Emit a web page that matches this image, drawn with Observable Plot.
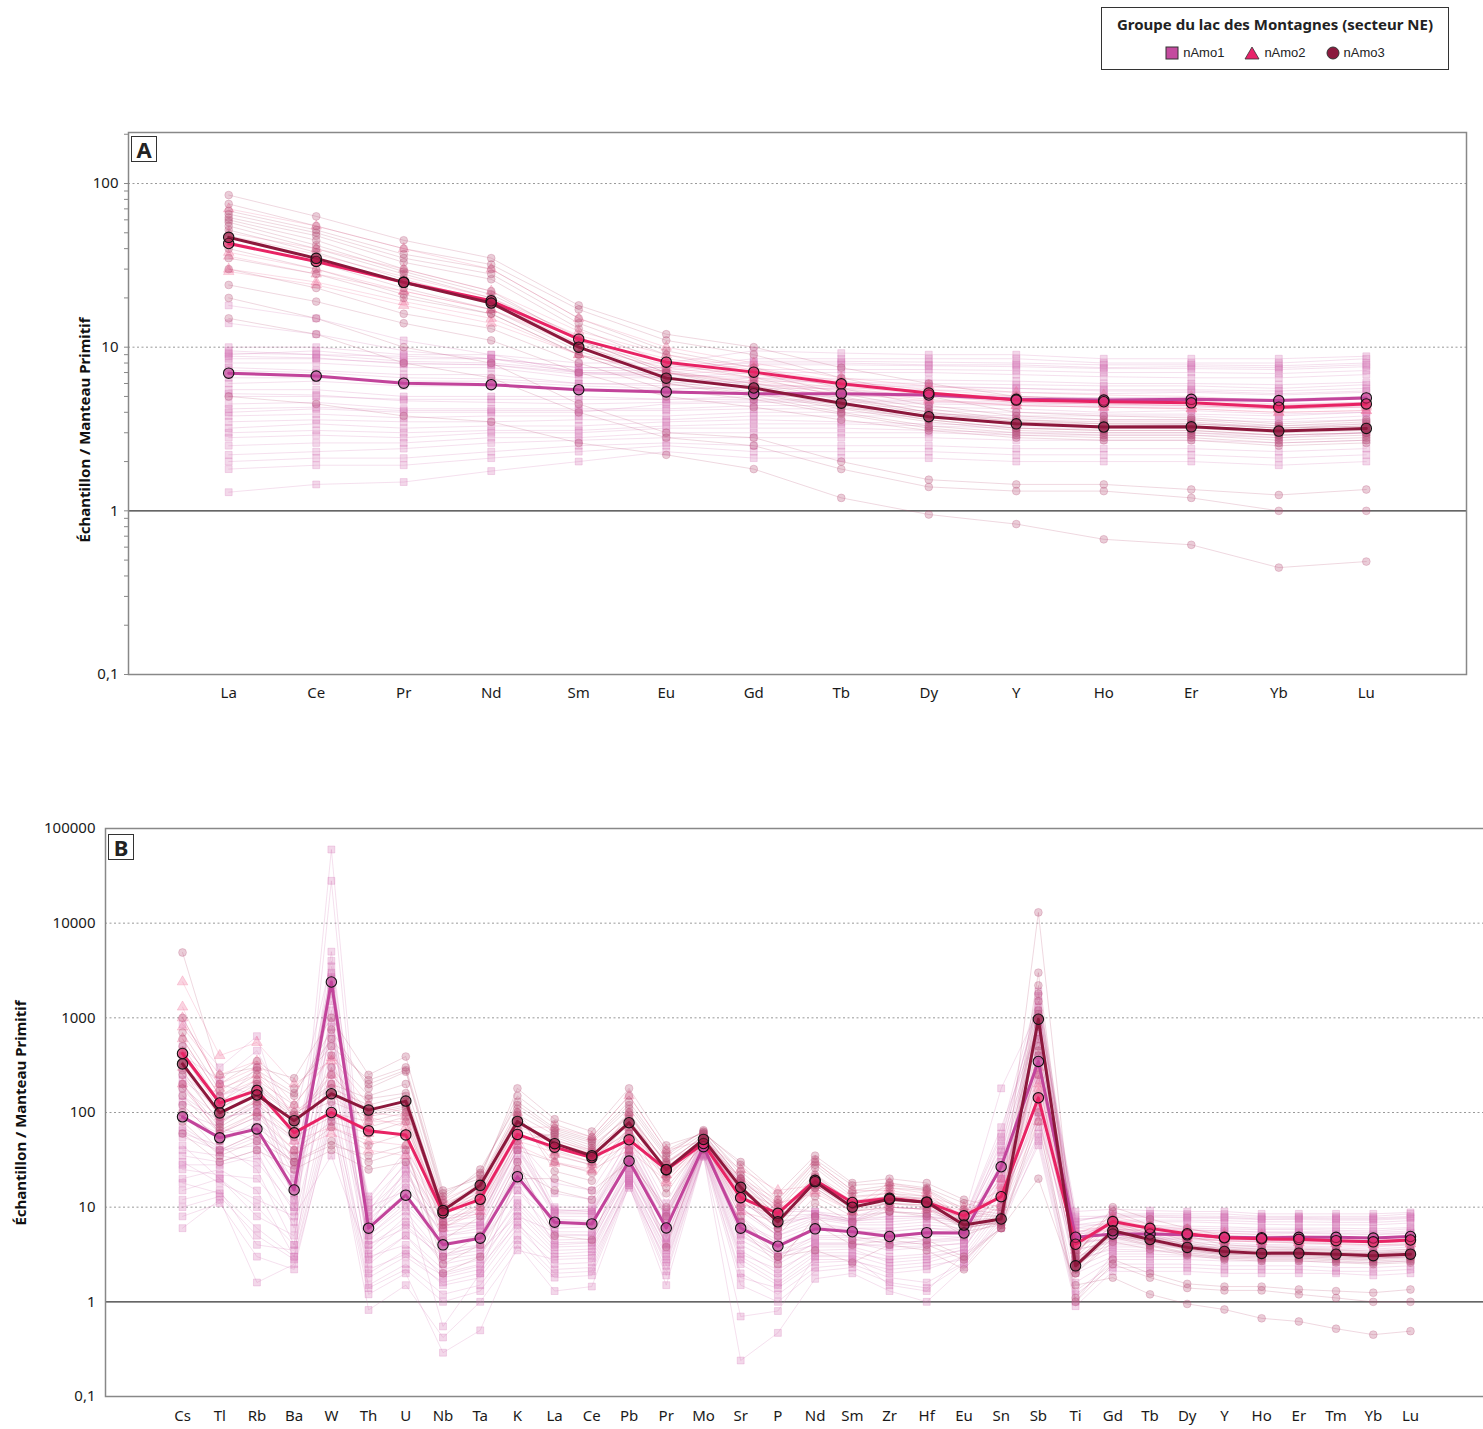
<!DOCTYPE html>
<html>
<head>
<meta charset="utf-8">
<script src="https://cdn.jsdelivr.net/npm/d3@7"></script>
<script src="https://cdn.jsdelivr.net/npm/@observablehq/plot@0.6"></script>
<style>
  html, body { margin: 0; padding: 0; background: #fff; overflow: hidden; }
  body { width: 1483px; height: 1429px; position: relative; font-family: "Noto Sans", "Open Sans", sans-serif; color: #222; overflow: hidden; }
  .abs { position: absolute; }
  .abs svg { max-width: none !important; }
  .ylab { position: absolute; transform: translate(-50%, -50%) rotate(-90deg); white-space: nowrap; font-weight: bold; font-size: 15px; color: #111; }
  .tag { position: absolute; width: 24px; height: 24px; border: 1.5px solid #333; font-weight: bold; font-size: 22px; line-height: 24px; text-align: center; color: #222; background: #fff; }
  #legend { position: absolute; left: 1101px; top: 7px; width: 346px; height: 61px; border: 1.5px solid #333; background: #fff; }
  #legend .title { position: absolute; left: 0; right: 0; top: 6px; text-align: center; font-weight: bold; font-size: 15px; color: #222; }
  #legend .items { position: absolute; left: 0; right: 0; top: 37px; display: flex; justify-content: center; align-items: center; gap: 20px; font-family: "Liberation Sans", Arial, sans-serif; font-size: 13px; }
  #legend .item { display: flex; align-items: center; gap: 4px; }
</style>
</head>
<body>
<div id="legend">
  <div class="title">Groupe du lac des Montagnes (secteur NE)</div>
  <div class="items">
    <div class="item"><svg width="14" height="14"><rect x="1" y="1" width="12" height="12" fill="#c44b9f" stroke="#333" stroke-width="1"/></svg><span>nAmo1</span></div>
    <div class="item"><svg width="16" height="14"><polygon points="8,1 15,13 1,13" fill="#e8246a" stroke="#333" stroke-width="0.8"/></svg><span>nAmo2</span></div>
    <div class="item"><svg width="14" height="14"><circle cx="7" cy="7" r="6" fill="#8b1a3e" stroke="#333" stroke-width="1"/></svg><span>nAmo3</span></div>
  </div>
</div>
<div id="chartA" class="abs" style="left:0; top:100px;"></div>
<div id="chartB" class="abs" style="left:0; top:790px;"></div>
<div class="tag" style="left:131px; top:136px;">A</div>
<div class="tag" style="left:108px; top:834px;">B</div>
<div class="ylab" style="left:84px; top:430px;">Échantillon / Manteau Primitif</div>
<div class="ylab" style="left:20px; top:1113px;">Échantillon / Manteau Primitif</div>
<script>
// ---------- DATA ----------
const elementsB = ["Cs","Tl","Rb","Ba","W","Th","U","Nb","Ta","K","La","Ce","Pb","Pr","Mo","Sr","P","Nd","Sm","Zr","Hf","Eu","Sn","Sb","Ti","Gd","Tb","Dy","Y","Ho","Er","Tm","Yb","Lu"];
const elementsA = ["La","Ce","Pr","Nd","Sm","Eu","Gd","Tb","Dy","Y","Ho","Er","Yb","Lu"];

const yTicksA = [0.1, 1, 10, 100];
const yTicksB = [0.1, 1, 10, 100, 1000, 10000, 100000];
const gridA = [10, 100];
const gridB = [10, 100, 1000, 10000, 100000];

const groups = ["nAmo1", "nAmo2", "nAmo3"];

// median profiles (element order of elementsB)
const medianAmo1 = [90,54,67,15.2,2390, 6.0,13.4,4.0,4.7,21, 6.94,6.66,30.7,6.03,43.5, 6.0,3.87,5.9,5.5,4.9, 5.38,5.33,26.7,346,4.81, 5.2,5.2,5.1,4.8,4.75, 4.8,4.8,4.72,4.9];
const medianAmo2 = [420,126,171,61,100, 64,58,8.7,12.1,58.7, 43,33.4,51.5,24.9,47, 12.6,8.6,19.2,11.2,12.4, 11.3,8.1,12.9,143,4.06, 7.04,5.97,5.24,4.75,4.64, 4.57,4.43,4.3,4.5];
const medianAmo3 = [326,99,153,82,158, 106,132,9.2,17,80.5, 46.9,34.9,78,24.9,52, 16.2,7.0,18.6,10.0,12.1, 11.3,6.47,7.5,966,2.4, 5.63,4.55,3.76,3.4,3.25, 3.26,3.18,3.07,3.19];

// individual samples
const samplesAmo1 = [
  [35,30,40,6,60000, 3.5,8,2.5,3,12, 4.5,4.6,25,4.2,40, 4,2.5,4.2,4.2,3.5, 3.8,4.2,30,900,3.5, 4.4,4.4,4.3,4.2,4.0, 4.1,4.0,3.9,4.0],
  [60,45,25,4,28000, 2.5,5,1.8,2.2,8, 3.2,3.4,20,3.2,38, 3,1.8,3.3,3.3,2.8, 3.0,3.5,20,600,2.8, 3.6,3.5,3.4,3.3,3.3, 3.4,3.2,3.3,3.4],
  [850,300,640,40,2900, 9,30,6,7,40, 9,9.5,45,8.5,55, 12,6,8.5,7.5,8, 8,7.5,60,1900,7, 8.5,8.5,8.5,8.5,8, 8,8,8,8.5],
  [150,80,120,25,2600, 7,18,5,6,35, 8,8,35,7.5,48, 9,5,7.5,6.5,6.5, 7,6.5,40,1700,6, 7,7,7,6.8,6.6, 6.5,6.5,6.5,6.8],
  [20,25,15,3,1000, 2,3.5,1.5,1.8,6, 2.5,2.6,18,2.6,36, 2.5,1.5,2.8,2.8,2, 2.2,3,10,120,2, 3,3,3,2.9,2.9, 2.9,2.8,2.8,3],
  [6,12,1.6,2.5,80, 1.2,2,0.29,0.5,4, 1.3,1.45,17,1.5,35, 0.24,0.47,1.75,2.0,1.3, 1.0,2.3,7,45,0.9, 2.1,2.1,2.1,2.0,2.0, 2.0,2.0,1.9,2.0],
  [300,150,200,60,700, 12,40,9,10,60, 10,10,55,9,60, 20,10,9,8,10, 9.5,8,180,1200,9, 9.5,9.2,9,9,8.5, 8.5,8.5,8.5,8.8],
  [45,20,8,5,400, 4,6,3,3.5,8, 5.5,5.5,22,5,42, 5,3,5,5,4, 4.5,4.8,15,250,4, 4.8,4.8,4.7,4.6,4.5, 4.5,4.4,4.4,4.6],
  [250,120,300,10,3000, 8,20,5,5.5,25, 6,6.2,40,5.8,50, 8,4,5.8,5.5,5.5, 6,5.5,35,1000,5.5, 5.8,5.8,5.7,5.6,5.5, 5.5,5.5,5.4,5.6],
  [12,15,4,3.5,150, 1.5,2.5,1.2,1.5,5, 2.0,2.1,18,2.1,36, 2,1.2,2.3,2.5,1.8, 1.6,2.6,8,60,1.3, 2.5,2.5,2.5,2.4,2.4, 2.4,2.3,2.3,2.4],
  [100,70,50,20,250, 5,10,4,5,30, 5,5,28,4.8,45, 7,3.5,4.8,4.8,4.5, 5,4.8,22,400,5, 5,5,5,4.9,4.9, 4.9,4.8,4.8,5],
  [500,200,150,12,5000, 6,25,3.5,4,15, 7.5,7.2,32,6.8,52, 10,5,6.8,6,6, 6.5,6,50,1500,5, 6.5,6.4,6.3,6.2,6, 6,6,5.9,6.1],
  [30,18,12,8,35, 3,4,2,2.5,10, 3.8,3.9,20,3.7,40, 3.5,2,3.8,3.8,3, 3.2,3.8,12,90,3, 4,4,3.9,3.8,3.8, 3.8,3.7,3.6,3.8],
  [70,40,60,30,1500, 10,15,7,8,45, 9.5,9,38,8.8,46, 15,8,8.5,7.5,9, 8.5,7.5,70,800,8, 8,8,7.8,7.8,7.5, 7.6,7.5,7.5,7.8],
  [180,90,100,50,900, 13,35,8,9,50, 18,15,60,11,55, 18,9,9,7,12, 11,6.5,25,500,6, 6,5.5,5,4.8,4.6, 4.6,4.5,4.4,4.5],
  [8,11,3,2.2,90, 0.82,1.5,0.42,1.0,3.5, 2.8,2.9,16,2.8,34, 0.7,0.8,3,3,1.5, 1.3,3.2,6,50,1.0, 3.2,3.2,3.1,3.0,3.0, 3.0,2.9,2.9,3.0],
  [40,35,30,10,500, 4.5,9,3,4,18, 4,4.2,24,4,42, 5.5,3.2,4,4,4, 4.2,4.5,18,300,4.2, 4.6,4.6,4.5,4.4,4.3, 4.3,4.2,4.2,4.3],
  [200,60,90,18,2200, 5.5,12,0.55,2,22, 6.5,6.5,30,6.2,44, 6.5,3.8,6.2,5.8,5, 5.5,5.6,28,700,5.2, 5.6,5.6,5.5,5.3,5.2, 5.3,5.2,5.1,5.3],
  [120,50,80,35,600, 11,28,7.5,8.5,40, 14,12,50,9.5,50, 14,7,8.5,7,10, 9.5,6.8,20,350,6.5, 6.5,6,5.8,5.6,5.4, 5.4,5.3,5.2,5.4],
  [25,22,20,7,300, 2.8,5,2.2,2.8,9, 3.5,3.6,21,3.5,39, 3.2,2.2,3.5,3.6,2.6, 2.8,3.6,14,150,2.6, 3.8,3.8,3.8,3.7,3.6, 3.6,3.5,3.5,3.6],
  [55,40,45,12,800, 4,7,3.2,3.8,15, 5.2,5.1,26,4.7,41, 5.2,3,4.6,4.5,4.2, 4.4,4.6,20,280,4.3, 4.7,4.7,4.6,4.5,4.4, 4.4,4.3,4.3,4.5],
  [90,60,70,16,1800, 6.5,14,4.5,5,24, 7.2,7,33,6.5,47, 7,4.5,6.4,6,5.6, 6,5.8,30,650,5.5, 6.2,6.1,6,5.9,5.8, 5.8,5.7,5.6,5.9],
  [15,20,10,4,200, 1.8,3,1.6,2,7, 2.2,2.3,19,2.4,37, 1.8,1.4,2.6,2.7,2.2, 2.4,2.8,9,70,1.6, 2.8,2.8,2.8,2.7,2.7, 2.7,2.6,2.6,2.7],
  [400,220,450,80,4000, 9.5,22,6.5,7,55, 8.5,8.5,42,8,52, 11,7,7.8,7,8, 8,7,45,1100,7.5, 7.8,7.8,7.7,7.6,7.4, 7.4,7.3,7.3,7.6],
  [28,28,35,9,1200, 3.2,6.5,2.8,3.2,11, 4.2,4.3,23,4.1,40, 4.5,2.8,4.1,4.1,3.8, 3.9,4.1,16,220,3.6, 4.2,4.2,4.1,4.0,3.9, 3.9,3.8,3.8,4.0],
  [65,38,55,14,3500, 5,11,4.2,4.8,19, 6.8,6.6,29,6,43, 6.8,4.2,5.9,5.5,5.2, 5.4,5.3,26,380,4.8, 5.3,5.3,5.2,5,4.9, 4.9,4.9,4.8,5],
  [130,85,110,22,2000, 7.5,16,5.5,6.3,32, 8.8,8.6,36,7.9,49, 9.5,5.5,7.8,6.8,7, 7.5,6.8,38,900,6.5, 7.3,7.3,7.3,7.2,7, 7,6.9,6.9,7.2],
  [18,14,6,3,120, 2.2,3.2,1.9,2.4,6.5, 3,3.1,19,3,37, 2.8,1.6,3.1,3.1,2.4, 2.6,3.3,11,100,2.3, 3.4,3.4,3.3,3.2,3.2, 3.2,3.1,3.1,3.2],
  [220,110,180,28,2700, 8,24,6,6.5,42, 9.2,9,44,8.2,53, 13,6.5,8,7.2,7.5, 7.8,7.2,55,1300,7.2, 8.2,8.2,8.1,8,7.8, 7.8,7.7,7.7,8],
  [10,13,5,2.8,100, 1.4,2.2,1.0,1.3,4.5, 1.8,1.9,17,1.9,35, 1.5,1.0,2.1,2.3,1.6, 1.4,2.5,7.5,55,1.2, 2.3,2.3,2.3,2.2,2.2, 2.2,2.1,2.1,2.2]
];
const samplesAmo2 = [
  [2400,400,550,200,350, 60,60,10,14,70, 70,55,150,40,50, 20,12,30,15,15, 13,10,15,200,5, 8,6.5,5.8,5.3,5.1, 5,4.8,4.7,4.9],
  [1300,180,250,100,150, 80,80,9,13,80, 50,40,80,30,48, 15,10,22,12.5,14, 12,9,13,160,4.5, 7.5,6.2,5.5,5,4.8, 4.7,4.6,4.5,4.6],
  [420,126,171,61,100, 64,58,8.7,12,58, 43,33,52,25,47, 12.6,8.6,19,11,12.4, 11.3,8.1,13,143,4, 7,6,5.2,4.75,4.6, 4.6,4.4,4.3,4.5],
  [200,60,100,40,60, 40,35,6,9,45, 30,25,40,19,44, 9,7,15,9,10, 9.5,7,10,80,3.5, 6.2,5.4,4.8,4.4,4.3, 4.2,4.1,4,4.1],
  [800,250,350,120,380, 120,100,12,18,100, 36,28,100,22,50, 25,15,17,10,18, 15,7.5,20,250,5.5, 6.5,5.6,5,4.6,4.5, 4.4,4.3,4.2,4.3],
  [600,150,220,80,200, 90,70,9.5,13,65, 48,37,60,27,48, 14,9,20,11.8,13, 12,8.5,14,180,4.3, 7.3,6.1,5.3,4.9,4.7, 4.6,4.5,4.4,4.6],
  [300,90,130,50,70, 50,45,7,10,50, 38,30,45,22,45, 11,8,17,10.5,11, 10.5,7.8,11,110,3.8, 6.8,5.8,5.1,4.6,4.5, 4.4,4.3,4.2,4.4],
  [1000,200,300,90,250, 100,90,11,15,90, 29,24,70,18,50, 18,11,14,9,16, 14,7,17,300,4.8, 6,5.2,4.7,4.4,4.3, 4.2,4.1,4.0,4.1]
];
const samplesAmo3 = [
  [4900,250,300,230,1000, 250,390,15,20,180, 85,63,180,45,60, 30,14,35,18,20, 18,12,10,13000,3, 10,7.5,6,5,4.8, 4.6,4.4,4.2,4.4],
  [330,100,150,80,160, 106,130,9,17,80, 47,35,78,25,52, 16,7,18.6,10,12, 11.3,6.5,7.5,970,2.4, 5.6,4.5,3.8,3.4,3.3, 3.3,3.2,3.1,3.2],
  [600,150,250,150,750, 180,270,12,25,120, 65,50,120,35,65, 22,10,28,14,16, 15,9,8,1800,3.5, 7,5.2,4.2,3.6,3.4, 3.4,3.3,3.2,3.3],
  [200,70,120,60,100, 80,100,7,12,60, 40,30,60,21,48, 13,6,16,9,10, 9.5,6,7,600,2.2, 5.2,4.2,3.5,3.1,3.0, 3.0,2.9,2.8,2.9],
  [150,60,90,40,80, 60,80,6,10,50, 60,45,90,30,55, 18,8,22,11,12, 11,7,6.5,400,2.8, 5.5,4.4,3.6,3.2,3.1, 3.1,3.0,2.9,3.0],
  [450,120,200,100,200, 140,160,10,18,100, 24,19,70,14,50, 12,6,11,7,9, 8.5,5,7,1000,2, 4.3,3.6,3.1,2.8,2.7, 2.7,2.6,2.5,2.6],
  [100,40,60,30,50, 30,40,3,5,30, 5,4.5,40,3.8,45, 8,3,3.5,2.6,4, 3.5,2.2,6,20,1.5, 1.8,1.2,0.95,0.83,0.67, 0.62,0.52,0.45,0.49],
  [250,80,130,70,300, 100,120,8,14,70, 55,40,100,28,58, 20,9,20,11,13, 12,7,7.5,1200,2.6, 5.8,4.8,3.9,3.5,3.4, 3.4,3.3,3.2,3.3],
  [350,90,180,90,130, 90,110,9,16,90, 35,28,80,20,50, 15,7.5,16,9,11, 10.5,6,7,500,2.3, 5,4,3.3,3.0,2.9, 2.9,2.8,2.7,2.8],
  [60,30,40,25,40, 25,30,2,3,20, 20,15,30,10,40, 6,2.5,8,4.5,5, 4.5,3,6,100,1.1, 2.8,2,1.55,1.45,1.45, 1.35,1.3,1.25,1.35],
  [80,35,50,30,45, 35,45,2.5,4,25, 15,12,35,8,42, 7,3,6.5,4,4.5, 4,2.8,6,80,1, 2.5,1.8,1.4,1.32,1.32, 1.2,1.1,1.0,1.0],
  [1000,200,350,180,500, 220,300,14,22,150, 75,55,150,40,62, 28,12,32,17,18, 16,11,9,3000,3.2, 9,6.5,5,4,3.8, 3.7,3.6,3.4,3.6],
  [500,130,220,120,400, 150,200,11,19,110, 62,48,110,33,60, 20,9,26,13,14, 13,8,8,1500,3, 6.5,5,4,3.5,3.3, 3.3,3.2,3.1,3.2],
  [280,75,140,75,250, 95,115,8.5,15,75, 52,38,85,26,54, 17,7.5,19,10.5,12, 11.5,6.6,7,800,2.5, 5.7,4.6,3.8,3.4,3.2, 3.2,3.1,3.0,3.1],
  [180,65,100,55,90, 70,90,6.5,11,55, 44,33,65,23,50, 14,6.5,17,9.5,11, 10,6.2,6.8,450,2.3, 5.3,4.3,3.6,3.2,3.1, 3.1,3.0,2.9,3.0],
  [700,170,280,160,600, 200,280,13,23,130, 68,52,130,37,63, 24,11,30,15,17, 15.5,9.5,8.5,2200,3.3, 7.5,5.6,4.4,3.8,3.6, 3.6,3.5,3.3,3.5],
  [120,50,70,35,70, 45,60,4.5,8,40, 30,23,50,16,46, 10,5,13,8,9, 8,5.5,6.5,250,2, 4.8,3.9,3.2,2.9,2.8, 2.8,2.7,2.6,2.7],
  [400,110,190,95,180, 120,150,10,17,95, 58,42,95,29,56, 19,8,21,11.5,13, 12.5,7.2,7.8,1100,2.7, 6,4.9,4,3.6,3.5, 3.5,3.4,3.2,3.4]
];

// ---------- STYLE ----------
const medColor = {nAmo1: "#c2449b", nAmo2: "#e82364", nAmo3: "#8c183c"};
const bgColor = {nAmo1: "#d373b3", nAmo2: "#ee6593", nAmo3: "#b44d74"};
const symbolOf = {nAmo1: "square", nAmo2: "triangle", nAmo3: "circle"};

// ---------- BUILD TABLES ----------
function tidy(samplesByGroup, elems) {
  const out = [];
  for (const [g, list] of samplesByGroup) {
    list.forEach((vals, i) => {
      elementsB.forEach((el, j) => {
        if (elems.includes(el)) out.push({group: g, id: g + "-" + i, el, v: vals[j]});
      });
    });
  }
  return out;
}
const allSamples = [["nAmo1", samplesAmo1], ["nAmo2", samplesAmo2], ["nAmo3", samplesAmo3]];
const allMedians = [["nAmo1", [medianAmo1]], ["nAmo2", [medianAmo2]], ["nAmo3", [medianAmo3]]];

const fmt = d => d < 1 ? String(d).replace(".", ",") : String(d);

function layerMarks(elems) {
  const bg = tidy(allSamples, elems);
  const med = tidy(allMedians, elems);
  const marks = [];
  for (const g of groups) {
    const d = bg.filter(r => r.group === g);
    marks.push(Plot.line(d, {x: "el", y: "v", z: "id", stroke: bgColor[g], strokeOpacity: 0.22, strokeWidth: 1}));
  }
  for (const g of groups) {
    const d = bg.filter(r => r.group === g);
    marks.push(Plot.dot(d, {x: "el", y: "v", symbol: symbolOf[g], r: 3.9, fill: bgColor[g], fillOpacity: 0.28, stroke: bgColor[g], strokeOpacity: 0.32, strokeWidth: 0.8}));
  }
  for (const g of groups) {
    const d = med.filter(r => r.group === g);
    marks.push(Plot.line(d, {x: "el", y: "v", stroke: medColor[g], strokeWidth: 3}));
  }
  for (const g of groups) {
    const d = med.filter(r => r.group === g);
    marks.push(Plot.dot(d, {x: "el", y: "v", r: 5.2, fill: medColor[g], fillOpacity: 0.55, stroke: "#111", strokeWidth: 1.1}));
  }
  return marks;
}

const plotStyle = {fontFamily: "'Noto Sans', 'Open Sans', sans-serif", fontSize: "15px", color: "#1a1a1a", background: "transparent", overflow: "visible", maxWidth: "none"};

// ---------- PANEL A ----------
const chartA = Plot.plot({
  width: 1483, height: 620,
  marginLeft: 128, marginRight: 17, marginTop: 32, marginBottom: 46,
  style: plotStyle,
  x: {type: "point", domain: elementsA, padding: 1.145, round: false, label: null},
  y: {type: "log", domain: [0.1, 205], label: null},
  marks: [
    Plot.ruleY(gridA, {stroke: "#999", strokeDasharray: "2,2.5", strokeWidth: 1}),
    Plot.ruleY([1], {stroke: "#333", strokeWidth: 1.2}),
    ...layerMarks(elementsA),
    Plot.frame({stroke: "#888", strokeWidth: 1.5}),
    Plot.axisY({tickSize: 4, tickFormat: () => "", stroke: "#888"}),
    Plot.axisY(yTicksA, {tickSize: 0, tickPadding: 10, tickFormat: fmt, fontSize: 15}),
    Plot.axisX({tickSize: 0, tickPadding: 13, fontSize: 15})
  ]
});
document.getElementById("chartA").append(chartA);

// ---------- PANEL B ----------
const chartB = Plot.plot({
  width: 1488, height: 639,
  marginLeft: 105, marginRight: 1, marginTop: 38, marginBottom: 33,
  style: plotStyle,
  x: {type: "point", domain: elementsB, padding: 2.07, round: false, label: null},
  y: {type: "log", domain: [0.1, 100000], label: null},
  marks: [
    Plot.ruleY(gridB, {stroke: "#999", strokeDasharray: "2,2.5", strokeWidth: 1}),
    Plot.ruleY([1], {stroke: "#333", strokeWidth: 1.2}),
    ...layerMarks(elementsB),
    Plot.frame({stroke: "#888", strokeWidth: 1.5}),
    Plot.axisY(yTicksB, {tickSize: 0, tickPadding: 10, tickFormat: fmt, fontSize: 15}),
    Plot.axisX({tickSize: 0, tickPadding: 14, fontSize: 15})
  ]
});
document.getElementById("chartB").append(chartB);
</script>
</body>
</html>
